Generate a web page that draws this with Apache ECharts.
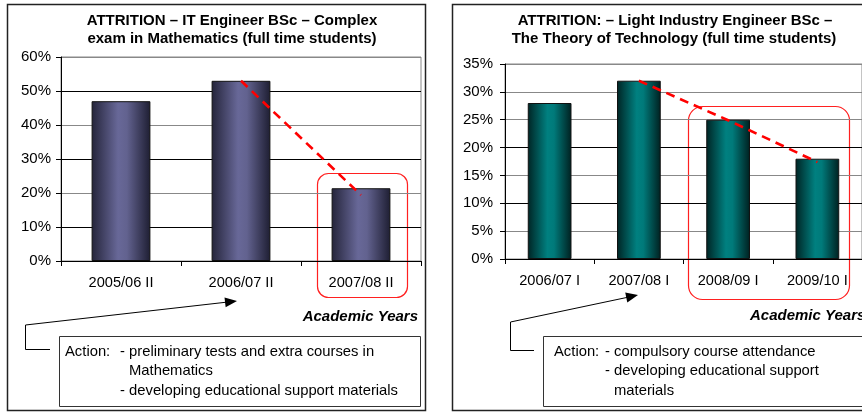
<!DOCTYPE html>
<html>
<head>
<meta charset="utf-8">
<script src="https://cdn.jsdelivr.net/npm/echarts@6/dist/echarts.min.js"></script>
<style>
  html, body { margin: 0; padding: 0; background: #fff; }
  #chart { width: 862px; height: 413px; }
</style>
</head>
<body>
<div id="chart"></div>
<script>
// IT Engineer BSc – complex exam in Mathematics (attrition, %)
const itYears = ['2005/06 II', '2006/07 II', '2007/08 II'];
const itAttrition = [47, 53, 21.4];
const itTrend = [null, 53, 19.4];
const itTicks = [0, 10, 20, 30, 40, 50, 60];

// Light Industry Engineer BSc – The Theory of Technology (attrition, %)
const liYears = ['2006/07 I', '2007/08 I', '2008/09 I', '2009/10 I'];
const liAttrition = [28, 32, 25, 18];
const liTrend = [null, 32, 24.9, 17.4];
const liTicks = [0, 5, 10, 15, 20, 25, 30, 35];

const FONT = '"Liberation Sans", Arial, sans-serif';

const navyGrad = new echarts.graphic.LinearGradient(0, 0, 1, 0, [
  { offset: 0, color: '#24243a' },
  { offset: 0.45, color: '#686898' },
  { offset: 0.6, color: '#62628f' },
  { offset: 1, color: '#1e1e32' }
]);
const tealGrad = new echarts.graphic.LinearGradient(0, 0, 1, 0, [
  { offset: 0, color: '#002424' },
  { offset: 0.45, color: '#008080' },
  { offset: 0.6, color: '#007a7a' },
  { offset: 1, color: '#002020' }
]);

function yAxis(gridIndex, ticks, margin, gridColors) {
  return {
    type: 'value', gridIndex,
    min: ticks[0], max: ticks[ticks.length - 1], interval: ticks[1] - ticks[0],
    axisLine: { show: true, lineStyle: { color: '#000', width: 1 } },
    axisTick: { show: true, length: 5, lineStyle: { color: '#000' } },
    axisLabel: { formatter: v => v + '%', color: '#000', fontSize: 15, fontFamily: FONT, margin },
    splitLine: { show: true, lineStyle: { color: gridColors, width: 1 } }
  };
}
function xAxis(gridIndex, cats) {
  return {
    type: 'category', gridIndex, data: cats,
    axisLine: { show: true, lineStyle: { color: '#000', width: 1 } },
    axisTick: { show: true, length: 5, lineStyle: { color: '#000' } },
    axisLabel: { color: '#000', fontSize: 14.6, fontFamily: FONT, margin: 14 },
    splitLine: { show: false }
  };
}
function trend(xi, data) {
  return {
    type: 'line', xAxisIndex: xi, yAxisIndex: xi, data, z: 5,
    symbol: 'none', connectNulls: false, silent: true,
    lineStyle: { color: '#ff0000', width: 2.6, type: [9, 6] }
  };
}

function text(x, y, str, opts) {
  return Object.assign({
    type: 'text', x, y, silent: true,
    style: Object.assign({ text: str, fill: '#000', font: '14.8px ' + FONT, textVerticalAlign: 'middle' }, opts || {})
  });
}
function arrowHead(x0, y0, x1, y1) {
  const dx = x1 - x0, dy = y1 - y0, len = Math.hypot(dx, dy);
  const ux = dx / len, uy = dy / len, L = 12, W = 5;
  const bx = x1 - ux * L, by = y1 - uy * L;
  return {
    type: 'polygon', silent: true,
    shape: { points: [[x1, y1], [bx - uy * W, by + ux * W], [bx + uy * W, by - ux * W]] },
    style: { fill: '#000' }
  };
}

const graphics = [
  // chart frames
  { type: 'rect', silent: true, shape: { x: 7.5, y: 4.5, width: 418, height: 406 }, style: { fill: 'none', stroke: '#222', lineWidth: 1.5 } },
  { type: 'rect', silent: true, shape: { x: 452.5, y: 4.5, width: 460, height: 406 }, style: { fill: 'none', stroke: '#222', lineWidth: 1.5 } },
  // titles
  text(232, 21, 'ATTRITION \u2013 IT Engineer BSc \u2013 Complex', { font: 'bold 15px ' + FONT, textAlign: 'center' }),
  text(232, 39, 'exam in Mathematics (full time students)', { font: 'bold 15px ' + FONT, textAlign: 'center' }),
  text(675, 21, 'ATTRITION: \u2013 Light Industry Engineer BSc \u2013', { font: 'bold 15px ' + FONT, textAlign: 'center' }),
  text(674, 39, 'The Theory of Technology (full time students)', { font: 'bold 15px ' + FONT, textAlign: 'center' }),
  // axis names
  text(418, 317, 'Academic Years', { font: 'italic bold 15px ' + FONT, textAlign: 'right' }),
  text(750, 316, 'Academic Years', { font: 'italic bold 15px ' + FONT, textAlign: 'left' }),
  // highlighted periods
  { type: 'rect', silent: true, shape: { x: 317.5, y: 173.5, width: 90, height: 124, r: 11 }, style: { fill: 'none', stroke: '#ff2020', lineWidth: 1.2 } },
  { type: 'rect', silent: true, shape: { x: 688.5, y: 106.5, width: 161, height: 193, r: 14 }, style: { fill: 'none', stroke: '#ff2020', lineWidth: 1.2 } },
  // callout connectors
  { type: 'polyline', silent: true, shape: { points: [[50, 349.5], [25.5, 349.5], [25.5, 325], [228, 302]] }, style: { fill: 'none', stroke: '#000', lineWidth: 1 } },
  arrowHead(25.5, 325, 237, 301),
  { type: 'polyline', silent: true, shape: { points: [[534, 350.5], [510.5, 350.5], [510.5, 322], [629, 297]] }, style: { fill: 'none', stroke: '#000', lineWidth: 1 } },
  arrowHead(510.5, 322, 638, 295),
  // action boxes
  { type: 'rect', silent: true, shape: { x: 59.5, y: 336.5, width: 361, height: 70 }, style: { fill: '#fff', stroke: '#333', lineWidth: 1 } },
  { type: 'rect', silent: true, shape: { x: 543.5, y: 336.5, width: 340, height: 70 }, style: { fill: '#fff', stroke: '#333', lineWidth: 1 } },
  text(65, 352, 'Action:'),
  text(120, 352, '- preliminary tests and extra courses in'),
  text(129, 371, 'Mathematics'),
  text(120, 391, '- developing educational support materials'),
  text(554, 352, 'Action:'),
  text(605, 352, '- compulsory course attendance'),
  text(605, 371, '- developing educational support'),
  text(614, 391, 'materials')
];

const chart = echarts.init(document.getElementById('chart'), null, { renderer: 'canvas' });
chart.setOption({
  animation: false,
  backgroundColor: '#fff',
  grid: [
    { left: 61, top: 57, width: 360, height: 204, show: true, borderColor: '#888', borderWidth: 1, backgroundColor: 'transparent' },
    { left: 505, top: 64, width: 360, height: 195, show: true, borderColor: '#888', borderWidth: 1, backgroundColor: 'transparent' }
  ],
  xAxis: [xAxis(0, itYears), xAxis(1, liYears)],
  yAxis: [
    yAxis(0, itTicks, 10, ['#888', '#000']),
    yAxis(1, liTicks, 12, ['#888', '#888', '#000', '#888', '#000', '#888', '#888', '#888'])
  ],
  series: [
    { type: 'bar', xAxisIndex: 0, yAxisIndex: 0, data: itAttrition, barWidth: '49%',
      itemStyle: { color: navyGrad, borderColor: '#111', borderWidth: 1 } },
    trend(0, itTrend),
    { type: 'bar', xAxisIndex: 1, yAxisIndex: 1, data: liAttrition, barWidth: '49%',
      itemStyle: { color: tealGrad, borderColor: '#111', borderWidth: 1 } },
    trend(1, liTrend)
  ],
  graphic: graphics
});
</script>
</body>
</html>
